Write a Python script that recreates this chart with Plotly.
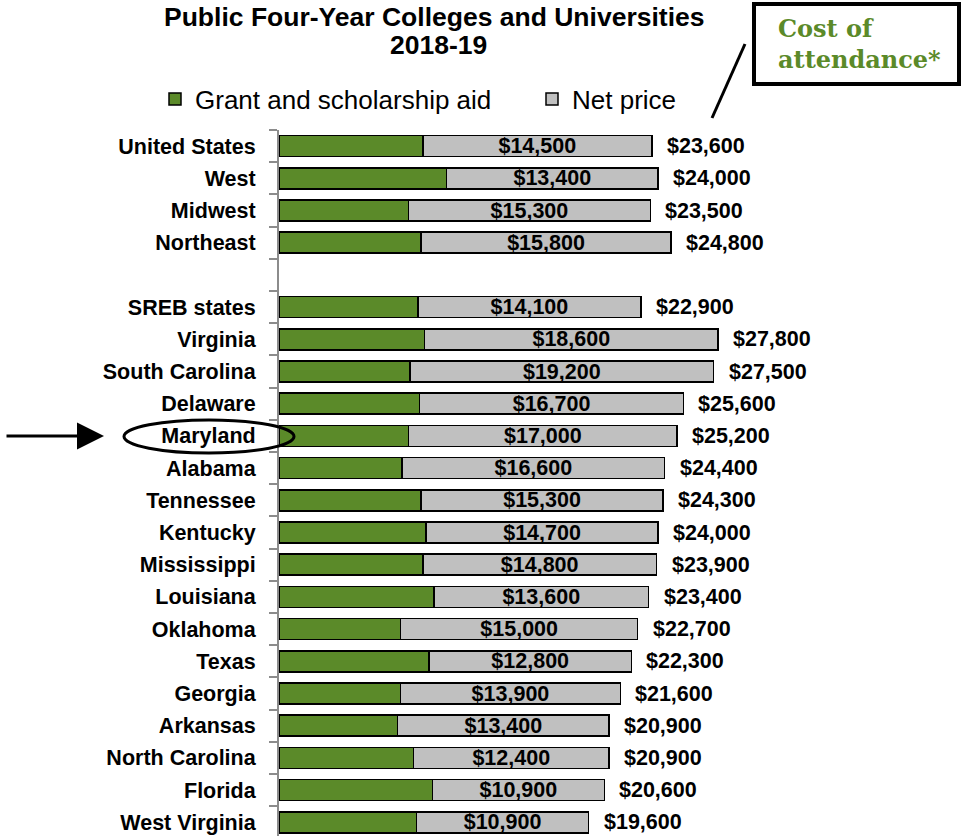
import plotly.graph_objects as go

# ---------------- data ----------------
categories = ["United States", "West", "Midwest", "Northeast", " ",
              "SREB states", "Virginia", "South Carolina", "Delaware", "Maryland",
              "Alabama", "Tennessee", "Kentucky", "Mississippi", "Louisiana",
              "Oklahoma", "Texas", "Georgia", "Arkansas", "North Carolina",
              "Florida", "West Virginia"]
net_price = [14500, 13400, 15300, 15800, None,
             14100, 18600, 19200, 16700, 17000,
             16600, 15300, 14700, 14800, 13600,
             15000, 12800, 13900, 13400, 12400,
             10900, 10900]
cost_of_attendance = [23600, 24000, 23500, 24800, None,
                      22900, 27800, 27500, 25600, 25200,
                      24400, 24300, 24000, 23900, 23400,
                      22700, 22300, 21600, 20900, 20900,
                      20600, 19600]
grant_aid = [None if c is None else c - n for c, n in zip(cost_of_attendance, net_price)]

title_line1 = "Public Four-Year Colleges and Universities"
title_line2 = "2018-19"
highlight = "Maryland"

# ---------------- layout constants (pixels) ----------------
W, H = 963, 836
ML, MT = 279, 130
PW, PH = W - ML, H - MT
ROW = 32.2
SCALE = 0.0158  # px per dollar

GREEN = "#5B8A29"
GRAY = "#C0C0C0"
AXIS = "#8C8C8C"
FONT = "Arial, Liberation Sans, sans-serif"


def px(x):
    return (x - ML) / PW


def py(y):
    return 1 - (y - MT) / PH


fig = go.Figure()
fig.add_trace(go.Bar(
    y=categories, x=grant_aid, orientation="h", name="Grant and scholarship aid",
    marker=dict(color=GREEN, line=dict(color="black", width=1.5)),
    hoverinfo="skip"))
fig.add_trace(go.Bar(
    y=categories, x=net_price, orientation="h", name="Net price",
    marker=dict(color=GRAY, line=dict(color="black", width=1.5)),
    text=[None if v is None else f"${v:,}" for v in net_price],
    textposition="inside", insidetextanchor="middle", constraintext="none",
    textfont=dict(family=FONT, size=21.5, color="black", weight="bold"),
    hoverinfo="skip"))

annotations = []
for cat, c in zip(categories, cost_of_attendance):
    if c is None:
        continue
    annotations.append(dict(
        x=c, y=cat, xref="x", yref="y", text=f"${c:,}", showarrow=False,
        xanchor="left", xshift=13,
        font=dict(family=FONT, size=21.5, color="black", weight="bold")))

# Title lines
annotations.append(dict(x=px(434), y=py(17), xref="paper", yref="paper",
                        text=title_line1, showarrow=False, xanchor="center", yanchor="middle",
                        font=dict(family=FONT, size=26.5, color="black", weight="bold")))
annotations.append(dict(x=px(438), y=py(45), xref="paper", yref="paper",
                        text=title_line2, showarrow=False, xanchor="center", yanchor="middle",
                        font=dict(family=FONT, size=26.5, color="black", weight="bold")))
# Cost of attendance callout
annotations.append(dict(x=px(776), y=py(44), xref="paper", yref="paper",
                        text="Cost of<br>attendance*", showarrow=False, xanchor="left", yanchor="middle",
                        align="left",
                        font=dict(family="DejaVu Serif, serif", size=24, color="#5B8A29", weight="bold")))
# Arrow pointing at Maryland
annotations.append(dict(x=px(104), y=py(436), xref="paper", yref="paper",
                        ax=-99, ay=0, text="", showarrow=True,
                        arrowhead=2, arrowsize=1.8, arrowwidth=3, arrowcolor="black"))

shapes = [
    dict(type="rect", xref="paper", yref="paper",
         x0=px(754), x1=px(959), y0=py(84), y1=py(4),
         line=dict(color="black", width=4), fillcolor="white", layer="below"),
    dict(type="line", xref="paper", yref="paper",
         x0=px(745), y0=py(44), x1=px(712), y1=py(118),
         line=dict(color="black", width=3)),
    dict(type="circle", xref="paper", yref="paper",
         x0=px(124), x1=px(294), y0=py(453), y1=py(420),
         line=dict(color="black", width=3)),
]

fig.update_layout(
    width=W, height=H,
    margin=dict(l=ML, r=0, t=MT, b=0, pad=0),
    barmode="stack", bargap=0.35,
    plot_bgcolor="white", paper_bgcolor="white",
    font=dict(family=FONT, color="black"),
    showlegend=True,
    legend=dict(orientation="h", x=px(155), y=py(99), xanchor="left", yanchor="middle",
                traceorder="normal", entrywidth=332,
                font=dict(family=FONT, size=26, color="black"),
                bgcolor="rgba(0,0,0,0)"),
    xaxis=dict(range=[0, PW / SCALE], visible=False, fixedrange=True),
    yaxis=dict(type="category", categoryorder="array", categoryarray=categories,
               range=[-0.5 + PH / ROW, -0.5],
               showline=True, linecolor=AXIS, linewidth=2,
               ticks="outside", tickson="boundaries", ticklen=8, tickcolor=AXIS, tickwidth=2,
               ticklabelstandoff=17,
               tickfont=dict(family=FONT, size=21.5, color="black", weight="bold"),
               showgrid=False, zeroline=False, fixedrange=True),
    annotations=annotations, shapes=shapes,
)

fig.write_html("out.html", config={"displayModeBar": False},
               post_script="document.body.style.margin='0';document.body.style.overflow='hidden';")
